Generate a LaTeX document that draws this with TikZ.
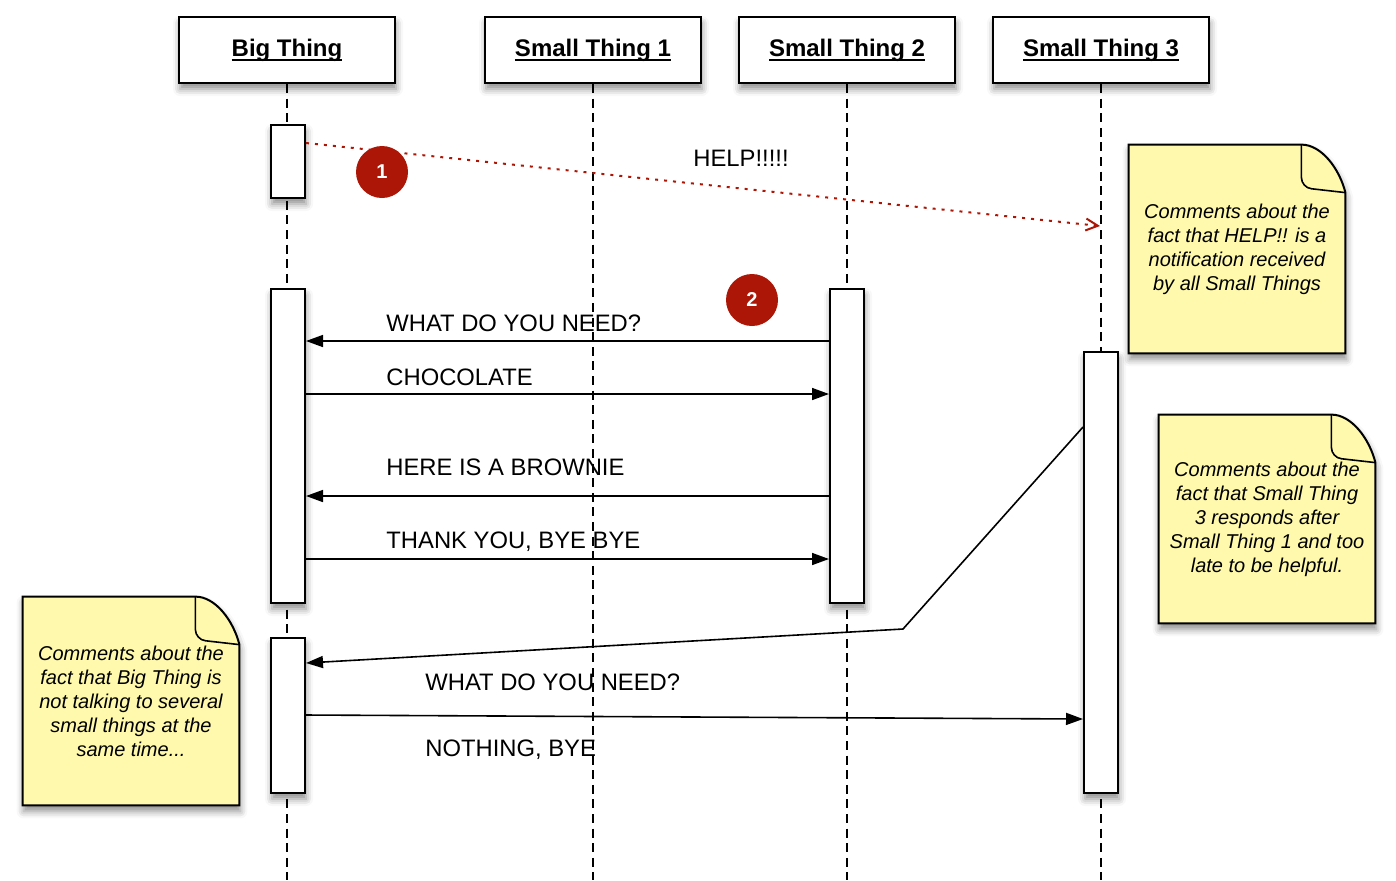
\documentclass[tikz,border=0pt]{standalone}
\usepackage{fontspec}
\setmainfont{Liberation Sans}
\usetikzlibrary{arrows.meta,calc,backgrounds,shadows.blur}
\definecolor{notefill}{RGB}{254,249,172}
\definecolor{helpred}{RGB}{172,22,6}

% underline that sits on the baseline, as in the headers
\newcommand{\headul}[1]{\setbox0\hbox{#1}\rlap{\rule[-2.4pt]{\wd0}{0.9pt}}\box0}

% folded-corner outline round a note node
\newcommand{\drawnote}[1]{%
  \filldraw[line width=1pt, fill=notefill, softshadow]
    (#1.north west) -- ($(#1.north east)+(-44,0)$)
    .. controls ($(#1.north east)+(-24,0)$) and ($(#1.north east)+(-6,24)$) .. ($(#1.north east)+(0,48)$)
    -- (#1.south east) -- (#1.south west) -- cycle;
  \draw[line width=0.8pt, rounded corners=5pt]
    ($(#1.north east)+(-44,0)$) -- ($(#1.north east)+(-44,43)$) -- ($(#1.north east)+(0,48)$);
}

\tikzset{
  softshadow/.style={blur shadow={shadow xshift=0.5pt, shadow yshift=-3pt, shadow blur radius=3.5pt, shadow opacity=45}},
  headbox/.style={draw, line width=1pt, fill=white, softshadow,
    minimum width=108pt, minimum height=33pt,
    font=\fontsize{12}{14}\selectfont\bfseries},
  lifeline/.style={line width=1pt, dash pattern=on 4.5pt off 2.8pt},
  actbar/.style={draw, line width=1pt, fill=white, softshadow,
    minimum width=17pt, inner sep=0pt},
  msg/.style={line width=0.8pt, -{Triangle[length=8.5pt,width=6pt]}},
  helpmsg/.style={helpred, line width=1pt, dash pattern=on 1.5pt off 3pt,
    -{Straight Barb[length=6pt,width=6pt,line width=1pt]}},
  msglabel/.style={anchor=base west, inner sep=0pt, font=\fontsize{11.9}{14}\selectfont},
  badge/.style={circle, fill=helpred, text=white, minimum size=26pt, inner sep=0pt,
    font=\fontsize{10}{12}\selectfont\bfseries},
  notebox/.style={minimum width=108pt, minimum height=104pt, align=center,
    font=\fontsize{10}{12}\selectfont\itshape},
}

\begin{document}
\begin{tikzpicture}[x=0.5pt, y=-0.5pt]
  \useasboundingbox (0,0) rectangle (1396,880);

  % heads
  \node[headbox] (bt) at (287,50) {\headul{Big Thing}};
  \node[headbox] (sa) at (593,50) {\headul{Small Thing 1}};
  \node[headbox] (sb) at (847,50) {\headul{Small Thing 2}};
  \node[headbox] (sc) at (1101,50) {\headul{Small Thing 3}};

  \coordinate (bottom) at (0,880);
  \foreach \h in {bt,sa,sb,sc}
    \draw[lifeline] (\h.south) -- (\h.south |- bottom);

  % activation bars
  \node[actbar, minimum height=36.5pt] (bt1) at (288,161.5) {};
  \node[actbar, minimum height=157pt] (bt2) at (288,446) {};
  \node[actbar, minimum height=77.5pt] (bt3) at (288,715.5) {};
  \node[actbar, minimum height=157pt] (sb1) at (847,446) {};
  \node[actbar, minimum height=220.5pt] (sc1) at (1101,572.5) {};

  % message rows
  \foreach \n/\y in {r0/143, r1/341, r2/394, r3/496, r4/559, r5/427, r6/663, r7/715, r8/719}
    \coordinate (\n) at (0,\y);
  \coordinate (helpto) at (1100,226);
  \coordinate (bend) at (903,629);

  \draw[helpmsg] (bt1.east |- r0) -- (helpto);
  \node[msglabel] (lhelp) at (693,166) {HELP!!!!!};

  \draw[msg] (sb1.west |- r1) -- (bt2.east |- r1);
  \node[msglabel] (l1) at (386,331) {WHAT DO YOU NEED?};
  \draw[msg] (bt2.east |- r2) -- (sb1.west |- r2);
  \node[msglabel] (l2) at (386,385) {CHOCOLATE};
  \draw[msg] (sb1.west |- r3) -- (bt2.east |- r3);
  \node[msglabel] (l3) at (386,475) {HERE IS A BROWNIE};
  \draw[msg] (bt2.east |- r4) -- (sb1.west |- r4);
  \node[msglabel] (l4) at (386,548) {THANK YOU, BYE BYE};

  \draw[msg] (sc1.west |- r5) -- (bend) -- (bt3.east |- r6);
  \node[msglabel] (l5) at (425,690) {WHAT DO YOU NEED?};
  \draw[msg] (bt3.east |- r7) -- (sc1.west |- r8);
  \node[msglabel] (l6) at (425,756) {NOTHING, BYE};

  % numbered steps
  \node[badge] (c1) at (382,172) {1};
  \node[badge] (c2) at (752,300) {2};

  % notes
  \node[notebox] (n1) at (1237,249) {Comments about the\\fact that HELP!! is a\\notification received\\by all Small Things};
  \node[notebox] (n2) at (1267,519) {Comments about the\\fact that Small Thing\\3 responds after\\Small Thing 1 and too\\late to be helpful.};
  \node[notebox] (n3) at (131,701) {Comments about the\\fact that Big Thing is\\not talking to several\\small things at the\\same time...};
  \begin{scope}[on background layer]
    \drawnote{n1}
    \drawnote{n2}
    \drawnote{n3}
  \end{scope}
\end{tikzpicture}
\end{document}
